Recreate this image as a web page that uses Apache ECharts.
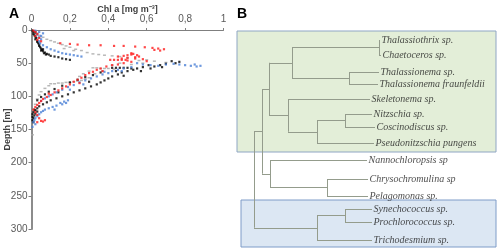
<!DOCTYPE html>
<html><head><meta charset="utf-8">
<script src="https://cdn.jsdelivr.net/npm/echarts@6/dist/echarts.min.js"></script>
<style>html,body{margin:0;padding:0;background:#fff}#c{width:500px;height:250px}</style>
</head><body><div id="c"></div>
<script>
// ---------- Panel A data: [Chl a (mg m-3), depth (m)] ----------
const chlTickLabels = {0:'0',0.2:'0,2',0.4:'0,4',0.6:'0,6',0.8:'0,8',1:'1'};
const depthTicks = [0,50,100,150,200,250,300];

const grayPts = [[0.02,2],[0.03,5],[0.04,8],[0.06,11],[0.08,14],[0.1,16],[0.12,18],[0.14,20],[0.16,22],[0.18,24],[0.2,26],[0.23,29],[0.26,31],[0.29,34],[0.32,36],[0.35,37],[0.38,38],[0.42,39],[0.46,40],[0.5,42],
[0.56,46],[0.6,45],[0.64,47],[0.7,49],[0.46,50],[0.42,53],[0.32,57],[0.34,57],[0.36,58],[0.38,58],[0.4,58],[0.43,59],[0.3,62],[0.27,66],[0.25,70],[0.3,72],[0.28,74],[0.26,76],[0.24,77],[0.22,78],[0.2,79],[0.18,79],[0.16,80],[0.14,80],[0.12,81],[0.1,81],[0.09,84],[0.07,88],[0.05,93],[0.04,98],[0.03,104],[0.02,112],[0.01,122],[0.005,158],
[0.22,31],[0.17,28],[0.37,62],[0.33,66],[0.52,52],[0.58,50]];

const blackPts = [[0.005,1],[0.01,3],[0.02,4],[0.01,6],[0.015,8],[0.02,10],[0.025,12],[0.02,14],[0.03,16],[0.03,18],[0.035,20],[0.04,22],[0.04,24],[0.045,26],[0.05,28],[0.055,30],[0.06,32],[0.07,34],[0.08,36],[0.09,37],[0.1,39],[0.12,40],[0.14,41],[0.16,43],[0.18,44],[0.2,45],[0.06,29],[0.05,31],[0.065,35],[0.075,37],
[0.77,48],[0.75,50],[0.73,47],[0.7,51],[0.67,53],[0.64,55],[0.61,53],[0.58,56],[0.55,58],[0.53,60],[0.5,62],[0.47,64],[0.42,57],[0.44,57],[0.46,57],[0.48,57],[0.5,57],[0.52,58],[0.45,67],[0.42,70],[0.4,73],[0.38,76],[0.36,79],[0.34,82],[0.31,85],[0.28,88],[0.25,91],[0.22,94],[0.19,97],[0.16,100],[0.13,103],[0.1,106],[0.08,109],[0.06,112],[0.04,115],[0.03,118],[0.02,121],[0.01,124],[0.005,127],[0.015,129],[0.005,131],[0.01,133],[0.02,126],[0.005,136],[0.01,139],
[0.36,64],[0.32,68],[0.28,71],[0.24,75],[0.2,79],[0.16,84],[0.12,89],[0.09,93],[0.07,97],[0.05,101],[0.03,106],
[0.62,58],[0.57,62],[0.48,69],[0.68,56],[0.44,62],[0.3,78],[0.14,94],[0.03,123],[0.015,120]];

const bluePts = [[0.02,1],[0.04,3],[0.06,5],[0.03,7],[0.05,9],[0.04,11],[0.05,14],[0.04,17],[0.045,20],[0.06,23],[0.08,26],[0.1,29],[0.12,31],[0.14,33],[0.16,35],[0.18,36],[0.2,37],[0.22,38],[0.24,39],[0.26,40],
[0.55,50],[0.58,52],[0.62,53],[0.66,54],[0.7,52],[0.74,51],[0.77,52],[0.8,53],[0.83,54],[0.86,55],[0.88,54],[0.85,52],[0.52,56],[0.48,58],[0.45,60],[0.42,62],[0.4,65],[0.37,67],[0.34,70],[0.31,73],[0.28,76],[0.25,79],[0.22,83],[0.19,86],[0.16,90],[0.13,94],[0.11,97],[0.09,100],[0.07,103],[0.05,107],
[0.19,106],[0.17,108],[0.15,110],[0.16,112],[0.13,114],[0.11,116],[0.09,118],[0.07,120],[0.06,122],[0.05,124],[0.04,127],[0.03,130],[0.02,133],[0.015,136],[0.01,139],[0.02,142],[0.005,146],
[0.47,62],[0.38,63],[0.27,82],[0.2,90],[0.18,110],[0.12,120]];

const redPts = [[0.01,1],[0.02,3],[0.03,6],[0.02,9],[0.04,12],[0.03,15],[0.05,17],
[0.15,20],[0.2,21],[0.24,22],[0.3,23],[0.36,23],[0.43,24],[0.48,24],[0.54,25],[0.59,26],[0.63,27],[0.66,28],[0.69,29],[0.67,31],[0.64,30],
[0.45,40],[0.48,39],[0.5,38],[0.52,37],[0.53,36],[0.55,38],[0.54,41],[0.5,42],[0.47,43],[0.41,45],[0.43,45],[0.45,45],[0.47,45],[0.49,45],[0.5,46],[0.56,40],[0.58,44],[0.6,47],[0.52,48],[0.48,50],[0.45,52],[0.42,53],[0.39,55],[0.36,58],[0.34,60],[0.32,63],[0.3,65],[0.28,68],[0.26,72],[0.24,75],[0.22,78],[0.2,82],[0.18,85],[0.16,88],[0.14,91],[0.12,94],[0.1,98],[0.08,101],[0.06,104],[0.05,107],[0.04,110],[0.03,113],[0.02,116],[0.01,120],[0.02,124],[0.03,128],[0.04,133],[0.05,137],[0.03,139],[0.07,136],[0.06,138],
[0.52,35],[0.54,43],[0.37,62],[0.25,80],[0.09,96]];

// ---------- Panel B data: dendrogram ----------
const leafNames = ['Thalassiothrix sp.','Chaetoceros sp.','Thalassionema sp.','Thalassionema fraunfeldii','Skeletonema sp.','Nitzschia sp.','Coscinodiscus sp.','Pseudonitzschia pungens','Nannochloropsis sp','Chrysochromulina sp','Pelagomonas sp.','Synechococcus sp.','Prochlorococcus sp.','Trichodesmium sp.'];
const leafPos = [40,55,72,84,99,114,127,143,160,179,196,209,222,240];
const leafTip = [150,151,149,148,140,142,145,144,137,138,138,142,142,142];
// internal nodes: [id, childA, childB, height]
const nodeId = ['n1','n2','n3','n4','n5','n6','n7','n8','n9','n10','n11','n12','root'];
const nodeA  = ['L0','L2','n1','L5','n4','L4','n3','L9','L8','n7','L11','n11','n10'];
const nodeB  = ['L1','L3','n2','L6','L7','n5','n6','L10','n8','n9','L12','L13','n12'];
const nodeH  = [149,119,62,115,87,58,39,97,40,32,115,87,24];
const groupGreen = [0,7];   // leaf index range of diatom box
const groupBlue = [11,13];  // leaf index range of cyanobacteria box

// ---------- build ----------
const pos = {};
leafNames.forEach((n,i)=>{pos['L'+i] = {x: leafTip[i], y: leafPos[i]};});
const segs = [];
nodeId.forEach((id,i)=>{
  const a = pos[nodeA[i]], b = pos[nodeB[i]], h = nodeH[i];
  pos[id] = {x:h, y:(a.y+b.y)/2};
  segs.push({coords:[[h,a.y],[h,b.y]]});
  segs.push({coords:[[h,a.y],[a.x,a.y]]});
  segs.push({coords:[[h,b.y],[b.x,b.y]]});
});
const leafLabelData = leafNames.map((n,i)=>[leafTip[i], leafPos[i], n]);

const chart = echarts.init(document.getElementById('c'), null, {renderer:'canvas'});
const tickFont = {fontFamily:'Liberation Sans', fontSize:10, color:'#595959'};
const scatterCommon = {type:'scatter', xAxisIndex:0, yAxisIndex:0, symbol:'rect', symbolSize:2.2, silent:true};
chart.setOption({
  animation:false,
  title:[
    {text:'A', left:4, top:2, textStyle:{fontFamily:'Liberation Sans', fontSize:14, fontWeight:'bold', color:'#000'}},
    {text:'B', left:232, top:2, textStyle:{fontFamily:'Liberation Sans', fontSize:14, fontWeight:'bold', color:'#000'}}
  ],
  grid:[
    {left:31.5, top:30, width:192, height:199, containLabel:false, outerBoundsMode:'none'},
    {left:230, top:0, width:270, height:250, containLabel:false, outerBoundsMode:'none'}
  ],
  xAxis:[
    {gridIndex:0, type:'value', position:'top', min:0, max:1, interval:0.2,
     name:'Chl a [mg m\u207B\u00B3]', nameLocation:'middle', nameGap:16, nameMoveOverlap:false,
     nameTextStyle:{fontFamily:'Liberation Sans', fontSize:9, fontWeight:'bold', color:'#404040'},
     axisLine:{show:true, lineStyle:{color:'#7f7f7f', width:1}},
     axisTick:{show:true, length:2, lineStyle:{color:'#7f7f7f'}},
     axisLabel:Object.assign({margin:6, formatter:v=>chlTickLabels[Math.round(v*10)/10] ?? ''}, tickFont),
     splitLine:{show:false}},
    {gridIndex:1, type:'value', min:0, max:270, show:false}
  ],
  yAxis:[
    {gridIndex:0, type:'value', inverse:true, min:0, max:300, interval:50,
     name:'Depth [m]', nameLocation:'middle', nameGap:19, nameRotate:90, nameMoveOverlap:false,
     nameTextStyle:{fontFamily:'Liberation Sans', fontSize:9, fontWeight:'bold', color:'#404040'},
     axisLine:{show:true, lineStyle:{color:'#8c8c8c', width:2}},
     axisTick:{show:true, length:3, lineStyle:{color:'#7f7f7f'}},
     axisLabel:Object.assign({margin:4, formatter:v=>depthTicks.includes(v)?String(v):''}, tickFont),
     splitLine:{show:false}},
    {gridIndex:1, type:'value', min:0, max:250, inverse:true, show:false}
  ],
  series:[
    Object.assign({name:'gray', data:grayPts, itemStyle:{color:'#a6a6a6'}}, scatterCommon, {symbolSize:[3,1.5]}),
    Object.assign({name:'black', data:blackPts, itemStyle:{color:'#000000'}}, scatterCommon),
    Object.assign({name:'blue', data:bluePts, itemStyle:{color:'#4a7fd6'}}, scatterCommon),
    Object.assign({name:'red', data:redPts, itemStyle:{color:'#ff1a1a'}}, scatterCommon),
    {type:'scatter', xAxisIndex:1, yAxisIndex:1, data:[], z:1, silent:true,
     markArea:{silent:true, data:[
       [{xAxis:7, yAxis:leafPos[groupGreen[0]]-9, itemStyle:{color:'#e3eed8', borderColor:'#8fa6c4', borderWidth:1}},
        {xAxis:266, yAxis:leafPos[groupGreen[1]]+9}],
       [{xAxis:11, yAxis:leafPos[groupBlue[0]]-9, itemStyle:{color:'#dce7f3', borderColor:'#7f9cc8', borderWidth:1}},
        {xAxis:266, yAxis:leafPos[groupBlue[1]]+7}]
     ]}},
    {type:'lines', coordinateSystem:'cartesian2d', xAxisIndex:1, yAxisIndex:1, z:3, silent:true,
     polyline:false, data:segs, lineStyle:{color:'#949c8c', width:1, opacity:1}},
    {type:'scatter', xAxisIndex:1, yAxisIndex:1, z:4, silent:true, symbolSize:0,
     data:leafLabelData,
     label:{show:true, position:'right', distance:1.5, formatter:p=>p.data[2],
       fontFamily:'Liberation Serif', fontStyle:'italic', fontSize:10, color:'#1a1a1a'}}
  ]
});
</script></body></html>
